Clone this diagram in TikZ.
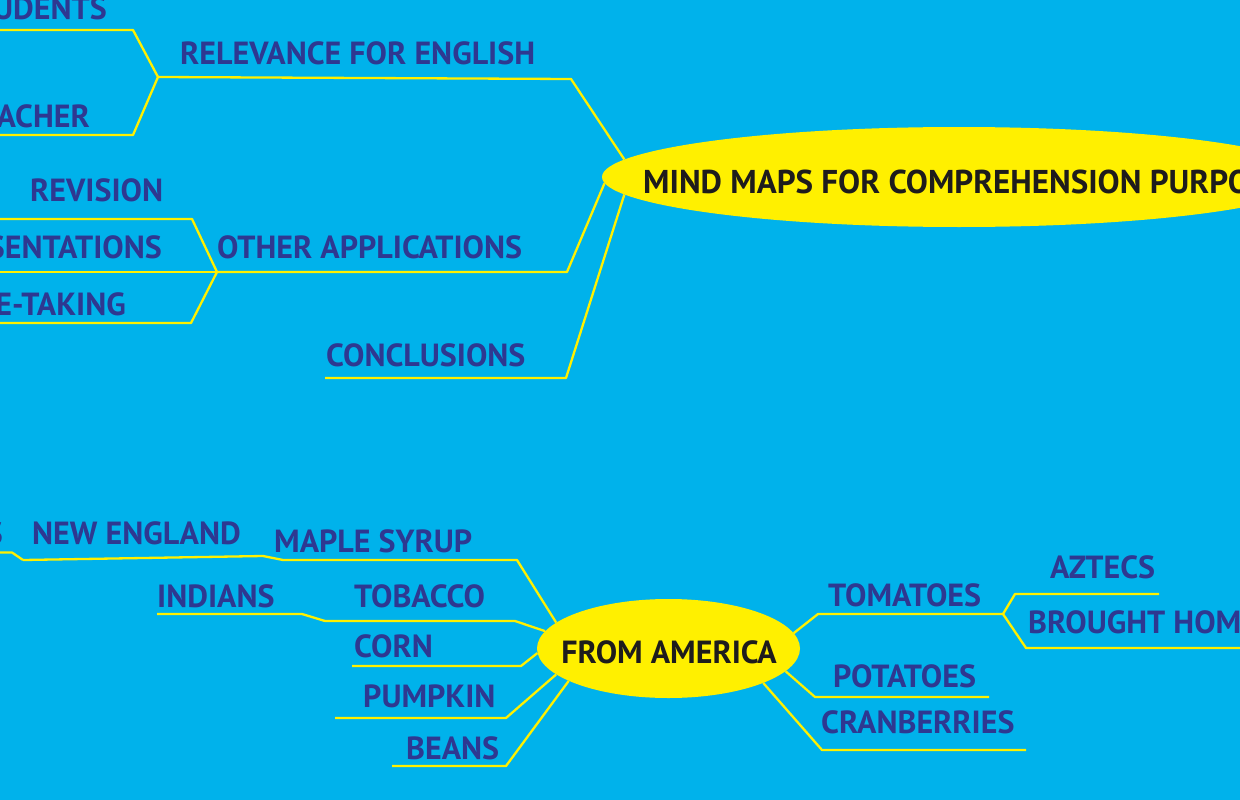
\documentclass[tikz,border=0pt]{standalone}
\usepackage{fontspec}
\setmainfont{PT Sans}
\usetikzlibrary{shapes.geometric}
\definecolor{bgcyan}{RGB}{0,178,235}
\definecolor{ylw}{RGB}{255,240,0}
\definecolor{lblue}{RGB}{46,56,145}
\definecolor{dark}{RGB}{30,28,28}
\begin{document}
\begin{tikzpicture}[x=1pt,y=-1pt,
  lbl/.style={inner sep=0pt, anchor=base west, text=lblue, font=\fontsize{32}{36}\selectfont\bfseries},
  lblr/.style={lbl, anchor=base east},
  ttl/.style={lbl, text=dark, font=\fontsize{33}{36}\selectfont\bfseries},
  conn/.style={draw=ylw, line width=2.3pt, line join=round},
  bubble/.style={ellipse, fill=ylw, inner sep=0pt}]
\useasboundingbox (0,0) rectangle (1240,800);
\clip (0,0) rectangle (1240,800);
\fill[bgcyan] (0,0) rectangle (1240,800);

% central bubbles
\node[bubble, minimum width=714pt, minimum height=100pt] (main) at (959,177) {};
\node[ttl] (maintxt) at (643,193) {MIND MAPS FOR COMPREHENSION PURPOSES};
\node[bubble, minimum width=263pt, minimum height=99pt] (am) at (668.5,648.5) {};
\node[ttl, anchor=base, font=\fontsize{32}{36}\selectfont\bfseries] (amtxt) at (669,663) {FROM AMERICA};

% labels top
\node[lblr] (stu) at (107,20) {STUDENTS};
\node[lbl] (rel) at (180,65) {RELEVANCE FOR ENGLISH};
\node[lblr] (tea) at (90,127) {TEACHER};
\node[lbl] (rev) at (30,201) {REVISION};
\node[lblr] (pre) at (162,258) {PRESENTATIONS};
\node[lbl] (oth) at (217,258) {OTHER APPLICATIONS};
\node[lblr] (not) at (126,315) {NOTE-TAKING};
\node[lbl] (con) at (326,366) {CONCLUSIONS};

% labels bottom
\node[lblr] (sss) at (3,544) {S};
\node[lbl] (neg) at (32,544) {NEW ENGLAND};
\node[lbl] (map) at (274,552) {MAPLE SYRUP};
\node[lbl] (ind) at (157,607) {INDIANS};
\node[lbl] (tob) at (354,607) {TOBACCO};
\node[lbl] (cor) at (354,657) {CORN};
\node[lbl] (pum) at (363,707) {PUMPKIN};
\node[lbl] (bea) at (406,759) {BEANS};
\node[lbl] (tom) at (828,606) {TOMATOES};
\node[lbl] (azt) at (1050,578) {AZTECS};
\node[lbl] (bro) at (1028,633) {BROUGHT HOME};
\node[lbl] (pot) at (833,687) {POTATOES};
\node[lbl] (cra) at (821,733) {CRANBERRIES};

% coordinates of connector bends
\coordinate (relK) at (571,79);  \coordinate (relJ) at (158,77);
\coordinate (stuK) at (133,30);  \coordinate (stuE) at (-5,30);
\coordinate (teaK) at (133,135); \coordinate (teaE) at (-5,135);
\coordinate (othK) at (567,272); \coordinate (othJ) at (217,272);
\coordinate (revK) at (192,219); \coordinate (revE) at (-5,219);
\coordinate (preE) at (-5,272);
\coordinate (notK) at (191,323); \coordinate (notE) at (-5,323);
\coordinate (conK) at (566,378); \coordinate (conE) at (325,378);

\coordinate (mapK) at (517,560); \coordinate (mapJ) at (283,560);
\coordinate (negK) at (263,556); \coordinate (negJ) at (23,560);
\coordinate (sssK) at (12,552.5); \coordinate (sssE) at (-5,552.5);
\coordinate (tobK) at (515,621); \coordinate (tobJ) at (325,621);
\coordinate (indK) at (302,614); \coordinate (indE) at (157,614);
\coordinate (corK) at (521,666); \coordinate (corE) at (352,666);
\coordinate (pumK) at (506,718); \coordinate (pumE) at (335,718);
\coordinate (beaK) at (506,766); \coordinate (beaE) at (392,766);
\coordinate (tomK) at (818,614); \coordinate (tomJ) at (1003,614);
\coordinate (aztK) at (1015,594); \coordinate (aztE) at (1159,594);
\coordinate (broK) at (1026,648); \coordinate (broE) at (1245,648);
\coordinate (potK) at (815,697); \coordinate (potE) at (989,697);
\coordinate (craK) at (822,750); \coordinate (craE) at (1026,750);

% connectors top
\draw[conn] (main.177.7) -- (relK) -- (relJ);
\draw[conn] (relJ) -- (stuK) -- (stuE);
\draw[conn] (relJ) -- (teaK) -- (teaE);
\draw[conn] (main.181.8) -- (othK) -- (othJ);
\draw[conn] (othJ) -- (revK) -- (revE);
\draw[conn] (othJ) -- (preE);
\draw[conn] (othJ) -- (notK) -- (notE);
\draw[conn] (main.183.8) -- (conK) -- (conE);

% connectors bottom
\draw[conn] (am.167) -- (mapK) -- (mapJ);
\draw[conn] (mapJ) -- (negK) -- (negJ);
\draw[conn] (negJ) -- (sssK) -- (sssE);
\draw[conn] (am.172.6) -- (tobK) -- (tobJ);
\draw[conn] (tobJ) -- (indK) -- (indE);
\draw[conn] (am.182.4) -- (corK) -- (corE);
\draw[conn] (am.193.5) -- (pumK) -- (pumE);
\draw[conn] (am.198.9) -- (beaK) -- (beaE);
\draw[conn] (am.7.5) -- (tomK) -- (tomJ);
\draw[conn] (tomJ) -- (aztK) -- (aztE);
\draw[conn] (tomJ) -- (broK) -- (broE);
\draw[conn] (am.349.9) -- (potK) -- (potE);
\draw[conn] (am.340.5) -- (craK) -- (craE);
\end{tikzpicture}
\end{document}
